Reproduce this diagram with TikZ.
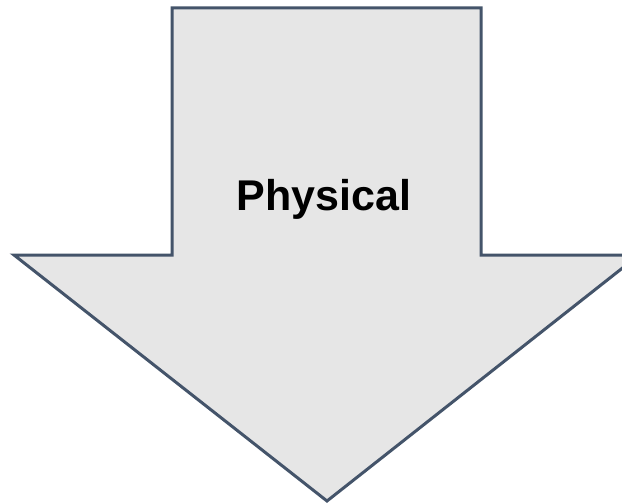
\documentclass[tikz,border=0pt]{standalone}
\usepackage{fontspec}
\setmainfont{Liberation Sans}
\definecolor{arrowfill}{HTML}{E6E6E6}
\definecolor{arrowline}{HTML}{44546A}
\tikzset{
  bigarrow/.style={draw=arrowline, fill=arrowfill, line width=3pt, line join=miter},
  label/.style={font=\fontsize{43}{50}\selectfont\bfseries, text=black, inner sep=0pt}
}
\begin{document}
\begin{tikzpicture}[x=1pt,y=-1pt]
\useasboundingbox (0,0) rectangle (622,503);
\begin{scope}
\clip (0,0) rectangle (622,503);
\draw[bigarrow] (172,8) -- (481,8) -- (481,255) -- (639,255) -- (327,501) -- (14,255) -- (172,255) -- cycle;
\end{scope}
\node[label, anchor=base] (phys) at (324,210) {Physical};
\end{tikzpicture}
\end{document}
